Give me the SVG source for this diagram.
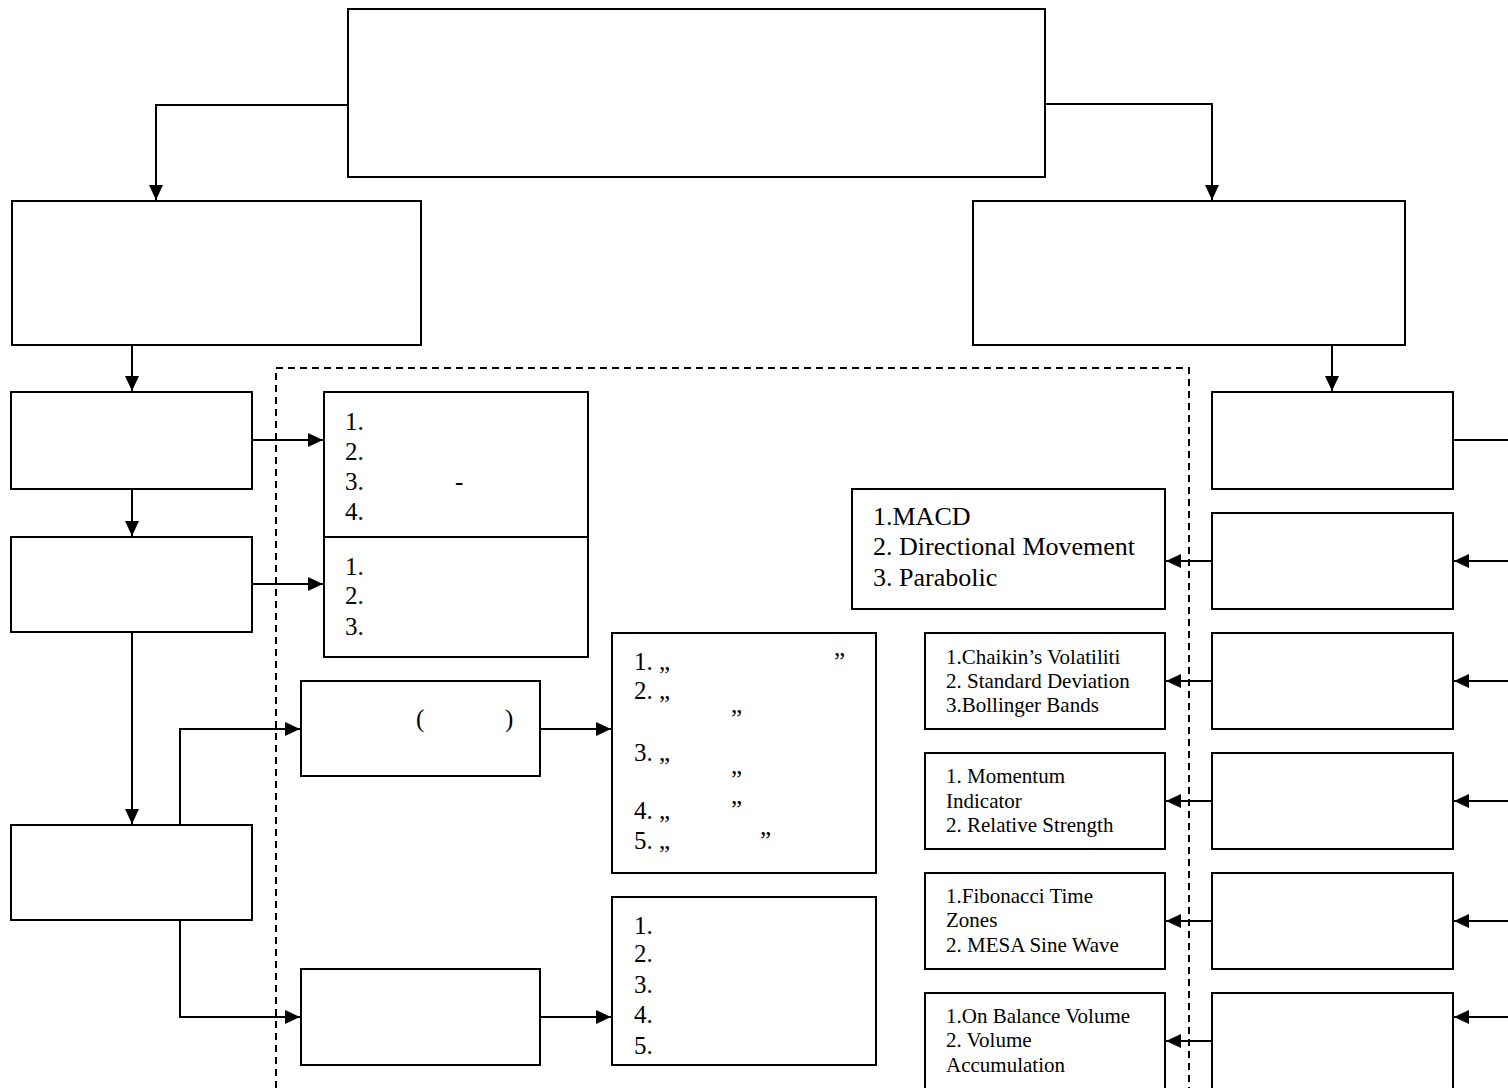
<svg xmlns="http://www.w3.org/2000/svg" width="1508" height="1088" viewBox="0 0 1508 1088">
<style>
.box{fill:#fff;stroke:#000;stroke-width:2}
.c{fill:none;stroke:#000;stroke-width:2}
.d{fill:none;stroke:#000;stroke-width:2;stroke-dasharray:7 5}
.t{font-family:"Liberation Serif","Times New Roman",serif;font-size:25px;fill:#000}
.tl{font-family:"Liberation Serif","Times New Roman",serif;font-size:26px;fill:#000}
.ts{font-family:"Liberation Serif","Times New Roman",serif;font-size:21px;fill:#000}
</style>
<defs>
<marker id="ah" viewBox="0 0 15 14" refX="15" refY="7" markerWidth="15" markerHeight="14" markerUnits="userSpaceOnUse" orient="auto">
<path d="M0,0 L15,7 L0,14 Z" fill="#000"/>
</marker>
</defs>
<rect width="1508" height="1088" fill="#fff"/>
<g id="frame">
<path class="d" d="M276,1088 V368 H1189 V1088"/>
</g>
<g id="connectors">
<path class="c" d="M348,105 H156 V200" marker-end="url(#ah)"/>
<path class="c" d="M1045,104 H1212 V200" marker-end="url(#ah)"/>
<path class="c" d="M132,345 V391" marker-end="url(#ah)"/>
<path class="c" d="M132,489 V536" marker-end="url(#ah)"/>
<path class="c" d="M132,632 V824" marker-end="url(#ah)"/>
<path class="c" d="M252,440 H323" marker-end="url(#ah)"/>
<path class="c" d="M252,584 H323" marker-end="url(#ah)"/>
<path class="c" d="M180,825 V729 H300" marker-end="url(#ah)"/>
<path class="c" d="M180,920 V1017 H300" marker-end="url(#ah)"/>
<path class="c" d="M540,729 H611" marker-end="url(#ah)"/>
<path class="c" d="M540,1017 H611" marker-end="url(#ah)"/>
<path class="c" d="M1332,345 V391" marker-end="url(#ah)"/>
<path class="c" d="M1453,440 H1508"/>
<path class="c" d="M1508,561 H1454" marker-end="url(#ah)"/>
<path class="c" d="M1508,681 H1454" marker-end="url(#ah)"/>
<path class="c" d="M1508,801 H1454" marker-end="url(#ah)"/>
<path class="c" d="M1508,921 H1454" marker-end="url(#ah)"/>
<path class="c" d="M1508,1017 H1454" marker-end="url(#ah)"/>
<path class="c" d="M1212,561 H1166" marker-end="url(#ah)"/>
<path class="c" d="M1212,681 H1166" marker-end="url(#ah)"/>
<path class="c" d="M1212,801 H1166" marker-end="url(#ah)"/>
<path class="c" d="M1212,921 H1166" marker-end="url(#ah)"/>
<path class="c" d="M1212,1041 H1166" marker-end="url(#ah)"/>
</g>
<g id="top"><rect class="box" x="348" y="9" width="697" height="168"/></g>
<g id="left1"><rect class="box" x="12" y="201" width="409" height="144"/></g>
<g id="right1"><rect class="box" x="973" y="201" width="432" height="144"/></g>
<g id="boxA"><rect class="box" x="11" y="392" width="241" height="97"/></g>
<g id="boxB"><rect class="box" x="11" y="537" width="241" height="95"/></g>
<g id="boxC"><rect class="box" x="11" y="825" width="241" height="95"/></g>
<g id="listA">
<rect class="box" x="324" y="392" width="264" height="145"/>
<text class="t" x="345" y="430">1.</text>
<text class="t" x="345" y="460">2.</text>
<text class="t" x="345" y="490">3.</text>
<text class="t" x="455" y="490">-</text>
<text class="t" x="345" y="520">4.</text>
</g>
<g id="listB">
<rect class="box" x="324" y="537" width="264" height="120"/>
<text class="t" x="345" y="575">1.</text>
<text class="t" x="345" y="604">2.</text>
<text class="t" x="345" y="635">3.</text>
</g>
<g id="boxD">
<rect class="box" x="301" y="681" width="239" height="95"/>
<text class="t" x="416" y="727">(</text>
<text class="t" x="505" y="727">)</text>
</g>
<g id="listE">
<rect class="box" x="612" y="633" width="264" height="240"/>
<text class="t" x="634" y="670">1. „</text>
<text class="t" x="834" y="670">”</text>
<text class="t" x="634" y="699">2. „</text>
<text class="t" x="731" y="727">”</text>
<text class="t" x="634" y="761">3. „</text>
<text class="t" x="731" y="788">”</text>
<text class="t" x="634" y="819">4. „</text>
<text class="t" x="731" y="818">”</text>
<text class="t" x="634" y="849">5. „</text>
<text class="t" x="760" y="849">”</text>
</g>
<g id="boxF"><rect class="box" x="301" y="969" width="239" height="96"/></g>
<g id="listG">
<rect class="box" x="612" y="897" width="264" height="168"/>
<text class="t" x="634" y="934">1.</text>
<text class="t" x="634" y="962">2.</text>
<text class="t" x="634" y="993">3.</text>
<text class="t" x="634" y="1023">4.</text>
<text class="t" x="634" y="1054">5.</text>
</g>
<g id="ind1">
<rect class="box" x="852" y="489" width="313" height="120"/>
<text class="tl" x="873" y="525">1.MACD</text>
<text class="tl" x="873" y="555">2. Directional Movement</text>
<text class="tl" x="873" y="586">3. Parabolic</text>
</g>
<g id="ind2">
<rect class="box" x="925" y="633" width="240" height="96"/>
<text class="ts" x="946" y="664">1.Chaikin’s Volatiliti</text>
<text class="ts" x="946" y="688">2. Standard Deviation</text>
<text class="ts" x="946" y="712">3.Bollinger Bands</text>
</g>
<g id="ind3">
<rect class="box" x="925" y="753" width="240" height="96"/>
<text class="ts" x="946" y="783">1. Momentum</text>
<text class="ts" x="946" y="808">Indicator</text>
<text class="ts" x="946" y="832">2. Relative Strength</text>
</g>
<g id="ind4">
<rect class="box" x="925" y="873" width="240" height="96"/>
<text class="ts" x="946" y="903">1.Fibonacci Time</text>
<text class="ts" x="946" y="927">Zones</text>
<text class="ts" x="946" y="952">2. MESA Sine Wave</text>
</g>
<g id="ind5">
<rect class="box" x="925" y="993" width="240" height="110"/>
<text class="ts" x="946" y="1023">1.On Balance Volume</text>
<text class="ts" x="946" y="1047">2. Volume</text>
<text class="ts" x="946" y="1072">Accumulation</text>
</g>
<g id="r2"><rect class="box" x="1212" y="392" width="241" height="97"/></g>
<g id="r3"><rect class="box" x="1212" y="513" width="241" height="96"/></g>
<g id="r4"><rect class="box" x="1212" y="633" width="241" height="96"/></g>
<g id="r5"><rect class="box" x="1212" y="753" width="241" height="96"/></g>
<g id="r6"><rect class="box" x="1212" y="873" width="241" height="96"/></g>
<g id="r7"><rect class="box" x="1212" y="993" width="241" height="110"/></g>
</svg>
